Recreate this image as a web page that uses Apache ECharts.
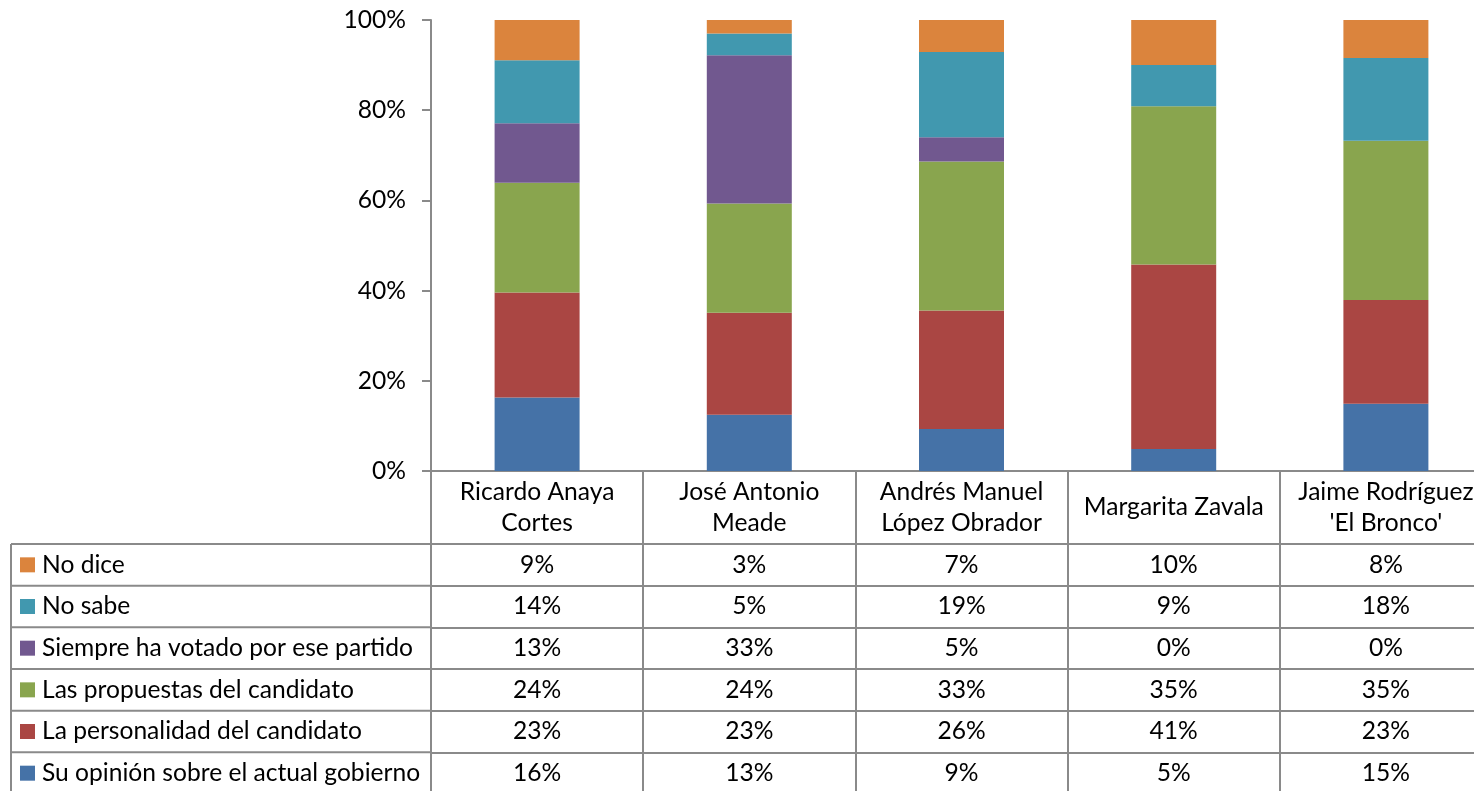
<!DOCTYPE html>
<html>
<head>
<meta charset="utf-8">
<script src="https://cdn.jsdelivr.net/npm/echarts@6/dist/echarts.min.js"></script>
<style>
  html, body { margin: 0; padding: 0; background: #fff; }
  #chart { width: 1474px; height: 791px; }
</style>
</head>
<body>
<div id="chart"></div>
<script>
// ---- Data ----
const categories = ["Ricardo Anaya\nCortes", "José Antonio\nMeade", "Andrés Manuel\nLópez Obrador", "Margarita Zavala", "Jaime Rodríguez\n'El Bronco'"];
const seriesNames = ["Su opinión sobre el actual gobierno", "La personalidad del candidato", "Las propuestas del candidato", "Siempre ha votado por ese partido", "No sabe", "No dice"];
const opinion      = [16.3, 12.5,  9.3,  4.9, 14.9];
const personalidad = [23.3, 22.6, 26.3, 40.9, 23.0];
const propuestas   = [24.3, 24.2, 33.0, 35.1, 35.3];
const siempre      = [13.2, 32.9,  5.4,  0.0,  0.0];
const noSabe       = [14.0,  4.8, 18.9,  9.1, 18.4];
const noDice       = [ 8.9,  3.0,  7.1, 10.0,  8.4];
const yTicks = [0, 20, 40, 60, 80, 100];

// ---- Style ----
const colors = ["#4572A7", "#AA4643", "#89A54E", "#71588F", "#4198AF", "#DB843D"];
const lineColor = "#8a8a8a";
const fontFamily = "Lato, 'Noto Sans', sans-serif";
const fontSize = 24.6;
const gridLeft = 431, gridTop = 20, gridWidth = 1061, gridHeight = 451;
const headerH = 73, rowH = 41.67, tableLeft = 11;
const legendLineH = 30;

const seriesData = [opinion, personalidad, propuestas, siempre, noSabe, noDice];
const rowOrder = [5, 4, 3, 2, 1, 0]; // table rows top to bottom

const chart = echarts.init(document.getElementById('chart'), null, { renderer: 'canvas' });

const xAxes = [{
  type: 'category', gridIndex: 0, position: 'bottom', data: categories,
  axisLine: { show: true, lineStyle: { color: lineColor, width: 2 } },
  axisTick: { show: true, alignWithLabel: false, interval: 0, inside: false, length: headerH + rowH * 6, lineStyle: { color: lineColor, width: 2 } },
  axisLabel: { interval: 0, margin: headerH / 2, verticalAlign: 'middle', align: 'center', fontSize: fontSize, lineHeight: 31.5, color: '#000', fontFamily: fontFamily },
  splitLine: { show: false }
}];
rowOrder.forEach((si, r) => {
  xAxes.push({
    type: 'category', gridIndex: 0, position: 'bottom', offset: headerH + r * rowH, data: categories,
    axisLine: { show: true, lineStyle: { color: lineColor, width: 2 } },
    axisTick: { show: false },
    axisLabel: {
      interval: 0, margin: rowH / 2, verticalAlign: 'middle', align: 'center', fontSize: fontSize, color: '#000', fontFamily: fontFamily,
      formatter: (v, idx) => Math.round(seriesData[si][idx]) + '%'
    },
    splitLine: { show: false }
  });
});

const graphics = [];
const tableTop = gridTop + gridHeight + headerH;
for (let r = 0; r < 6; r++) {
  const y = tableTop + r * rowH;
  graphics.push({ type: 'line', silent: true, shape: { x1: tableLeft, y1: y, x2: gridLeft, y2: y }, style: { stroke: lineColor, lineWidth: 2 } });
}
graphics.push({ type: 'line', silent: true, shape: { x1: tableLeft, y1: tableTop, x2: tableLeft, y2: tableTop + rowH * 6 }, style: { stroke: lineColor, lineWidth: 2 } });

const option = {
  animation: false,
  backgroundColor: '#ffffff',
  grid: { left: gridLeft, top: gridTop, width: gridWidth, height: gridHeight, containLabel: false, outerBoundsMode: 'none' },
  legend: {
    orient: 'vertical', left: 20, top: tableTop + rowH / 2 - legendLineH / 2, itemGap: rowH - legendLineH, itemWidth: 15, itemHeight: 15, icon: 'rect', padding: 0,
    selectedMode: false, data: rowOrder.map(i => seriesNames[i]),
    textStyle: { fontSize: fontSize, color: '#000', fontFamily: fontFamily, lineHeight: legendLineH, padding: [0, 0, 0, 2] }
  },
  xAxis: xAxes,
  yAxis: {
    type: 'value', min: yTicks[0], max: yTicks[yTicks.length - 1], interval: 20,
    axisLine: { show: true, lineStyle: { color: lineColor, width: 2 } },
    axisTick: { show: true, length: 9, inside: false, lineStyle: { color: lineColor, width: 2 } },
    axisLabel: { formatter: '{value}%', fontSize: fontSize, color: '#000', fontFamily: fontFamily, margin: 25 },
    splitLine: { show: false }
  },
  graphic: graphics,
  series: seriesNames.map((name, i) => ({
    name: name, type: 'bar', stack: 'total', barWidth: 85, xAxisIndex: 0, yAxisIndex: 0,
    itemStyle: { color: colors[i] },
    data: seriesData[i]
  }))
};
chart.setOption(option);
</script>
</body>
</html>
